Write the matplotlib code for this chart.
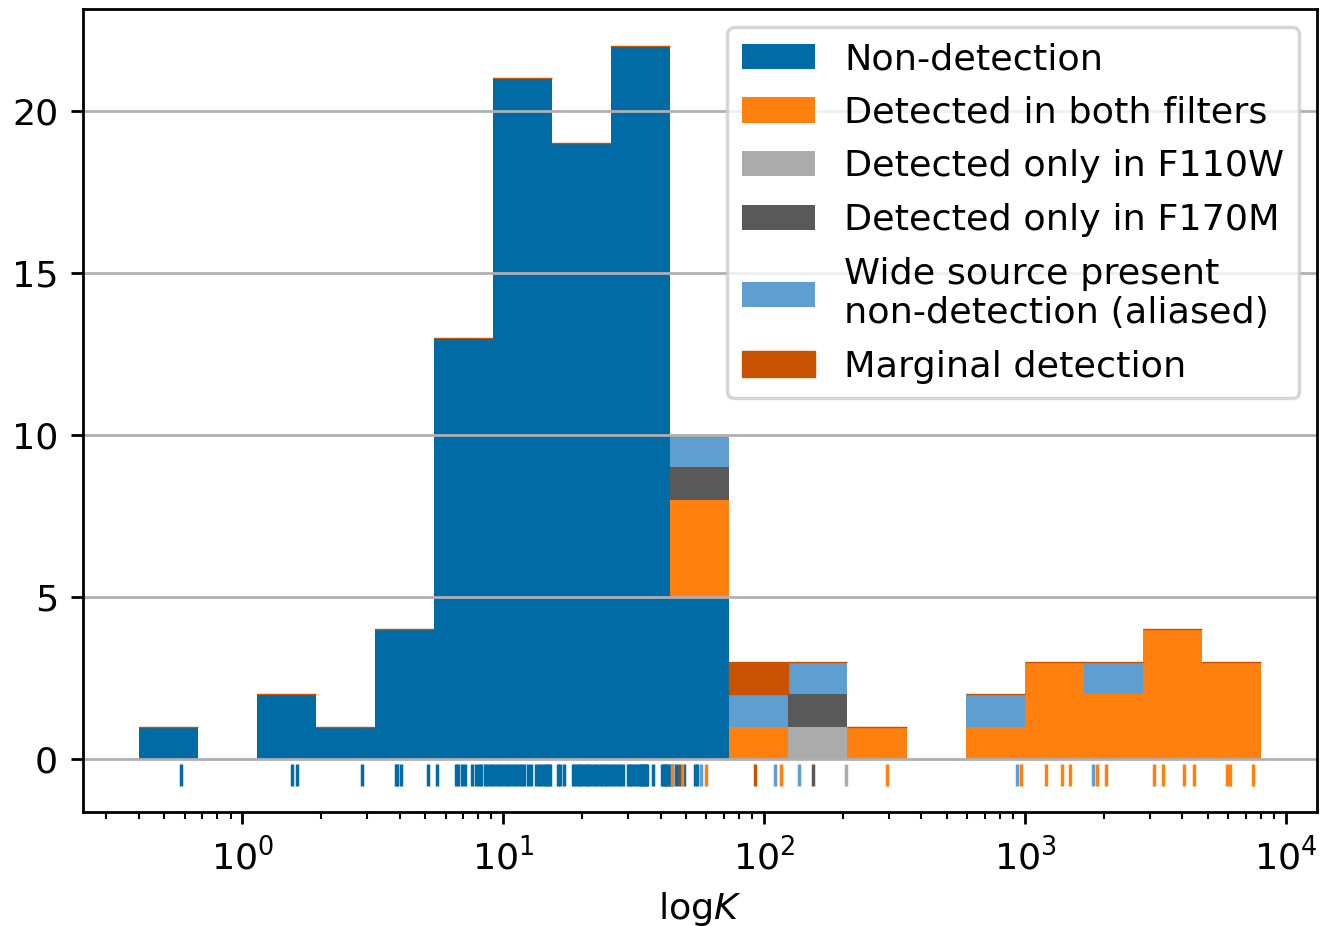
import numpy as np
import matplotlib.pyplot as plt

plt.style.use('tableau-colorblind10')
plt.rcParams['font.size'] = 10.5

# K values of each source, split by detection class
non_detection = [
    0.582, 1.544, 1.620, 2.873, 3.863, 3.904, 4.052, 5.122,
    5.565, 6.567, 6.714, 6.955, 7.141, 7.595, 7.834, 8.042, 8.222, 8.480, 8.670, 8.864, 9.022,
    9.303, 9.511, 9.722, 9.982, 10.25, 10.43, 10.71, 10.95, 11.19, 11.49, 11.75, 12.01, 12.39,
    12.78, 13.35, 13.65, 13.95, 14.27, 14.58, 14.84, 15.11,
    16.14, 16.50, 17.09, 18.50, 18.83, 19.25, 19.68, 20.03, 20.48, 20.94, 21.31, 21.88, 22.36,
    22.86, 23.37, 23.89, 24.42, 24.97, 25.53,
    26.21, 26.79, 27.39, 28.01, 28.62, 29.91, 30.58, 31.12, 31.82, 32.53, 33.25, 33.55, 34.00,
    34.60, 35.06, 35.37, 37.45, 40.55, 41.09, 41.64, 42.38, 42.94,
    44.29, 45.86, 49.23, 54.01, 54.96,
]
both_filters = [
    44.10, 48.37, 59.5, 115.8, 293.9, 966.3, 1197, 1382, 1483, 1882, 2032,
    3102, 3367, 4041, 4414, 5929, 6087, 7489,
]
only_f110w = [205.3]
only_f170m = [46.9, 153.9]
wide_aliased = [57.33, 109.8, 136.0, 929.4, 1816]
marginal = [92.0]

labels = [
    'Non-detection',
    'Detected in both filters',
    'Detected only in F110W',
    'Detected only in F170M',
    'Wide source present\nnon-detection (aliased)',
    'Marginal detection',
]
samples = [non_detection, both_filters, only_f110w, only_f170m, wide_aliased, marginal]

# log-spaced bins between 0.4 and 8000
bins = np.logspace(np.log10(0.4), np.log10(8000), 20)

fig, ax = plt.subplots(figsize=(1327 / 250, 926 / 250), dpi=250)
fig.subplots_adjust(left=0.0622, right=0.9925, top=0.990, bottom=0.1234)

n, edges, containers = ax.hist(samples, bins=bins, stacked=True, histtype='bar', label=labels)
for bar in containers[-1]:
    bar.set_edgecolor(bar.get_facecolor())
    bar.set_linewidth(0.4)

# rug of the individual sources under the histogram
colors = plt.rcParams['axes.prop_cycle'].by_key()['color']
for vals, c in zip(samples, colors):
    ax.plot(vals, np.full(len(vals), -0.5), '|', color=c, ms=6.5, mew=1.0)

ax.set_xscale('log')
ax.grid(axis='y')
ax.set_xlabel('log$K$')
ax.legend(loc='upper right', labelspacing=0.54)

fig.savefig('out.png', dpi=250)
